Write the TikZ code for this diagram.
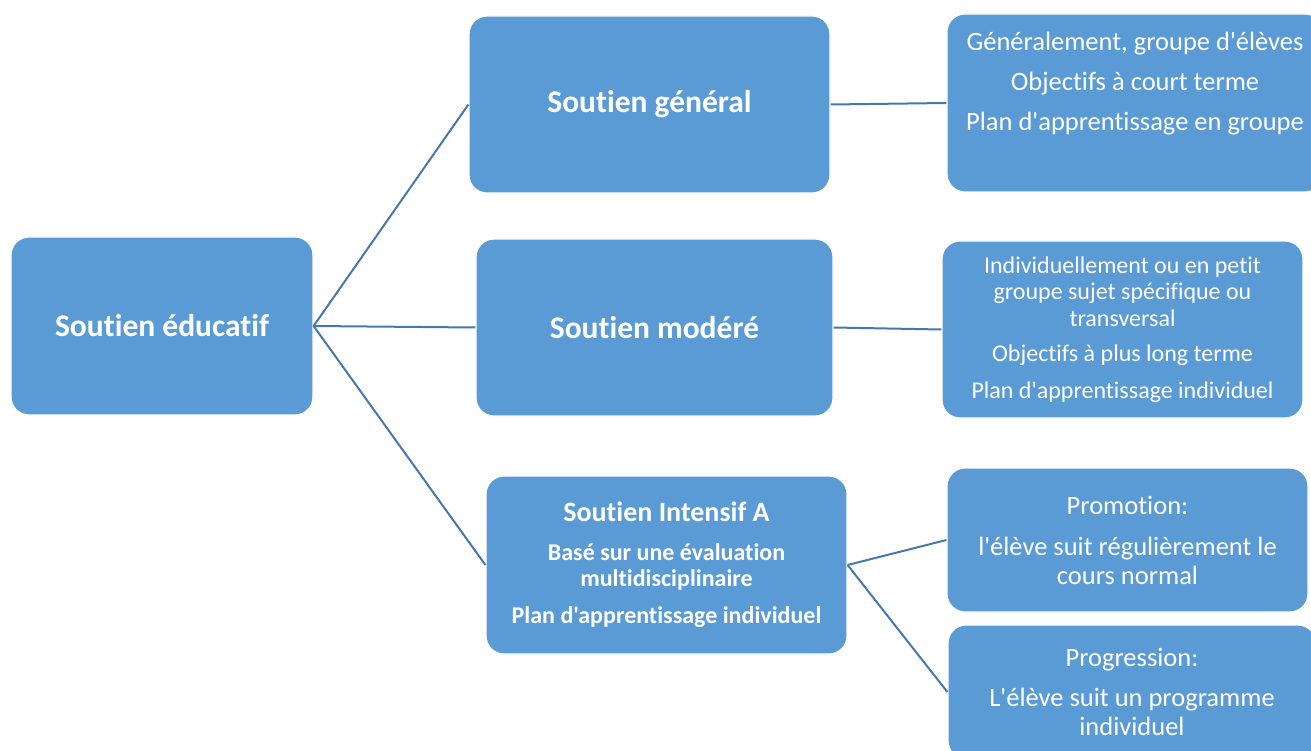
\documentclass[tikz,border=0pt]{standalone}
\usepackage{fontspec}
\setmainfont{Carlito}[Ligatures={TeXOff,CommonOff}]
\definecolor{boxblue}{HTML}{5B9BD5}
\definecolor{linkblue}{HTML}{4777AC}
\begin{document}
\begin{tikzpicture}[x=1pt,y=-1pt,
  box/.style={rectangle, rounded corners=18pt, fill=boxblue, draw=white, line width=1.2pt,
    text=white, align=center, inner sep=0pt},
  txt/.style={text=white, align=center, inner sep=0pt},
  link/.style={draw=linkblue, line width=2pt},
  big/.style={font=\fontsize{31.5}{36}\selectfont\bfseries}]
\useasboundingbox (0,0) rectangle (1311,751);
\clip (0,0) rectangle (1311,751);
% left and middle boxes
\node[box,big,minimum width=302pt,minimum height=178pt] (educ) at (162,326) {Soutien éducatif};
\node[box,big,minimum width=361pt,minimum height=177pt] (gen) at (649.5,104.5) {Soutien général};
\node[box,big,minimum width=357pt,minimum height=177pt] (mod) at (654.5,327.5) {Soutien modéré};
\node[box,minimum width=361pt,minimum height=178pt,font=\fontsize{24}{26}\selectfont\bfseries] (int) at (666.5,565)
  {{\fontsize{28}{30}\selectfont Soutien Intensif A}\\[13pt]Basé sur une évaluation\\multidisciplinaire\\[11pt]Plan d'apprentissage individuel};
% right boxes
\node[box,minimum width=376pt,minimum height=178pt] (r1) at (1135,103) {};
\node[txt,font=\fontsize{26.5}{29}\selectfont] (r1t) at (1135,84)
  {Généralement, groupe d'élèves\\[11pt]Objectifs à court terme\\[11pt]Plan d'apprentissage en groupe};
\node[box,minimum width=361pt,minimum height=177pt,font=\fontsize{24}{26.5}\selectfont] (r2) at (1122.5,329.5)
  {Individuellement ou en petit\\groupe sujet spécifique ou\\transversal\\[9pt]Objectifs à plus long terme\\[10pt]Plan d'apprentissage individuel};
\node[box,minimum width=361pt,minimum height=144pt,font=\fontsize{26.5}{29}\selectfont] (r3) at (1127.5,540)
  {Promotion:\\[12pt]l'élève suit régulièrement le\\cours normal};
\node[box,minimum width=368pt,minimum height=134pt,font=\fontsize{26.5}{29}\selectfont] (r4) at (1132,692)
  {Progression:\\[11pt]L'élève suit un programme\\individuel};
% connectors
\draw[link] (educ.east) -- (gen.west);
\draw[link] (educ.east) -- (mod.west);
\draw[link] (educ.east) -- (int.west);
\draw[link] (gen.east) -- (r1.west);
\draw[link] (mod.east) -- (r2.west);
\draw[link] (int.east) -- (r3.west);
\draw[link] (int.east) -- (r4.west);
\end{tikzpicture}
\end{document}
